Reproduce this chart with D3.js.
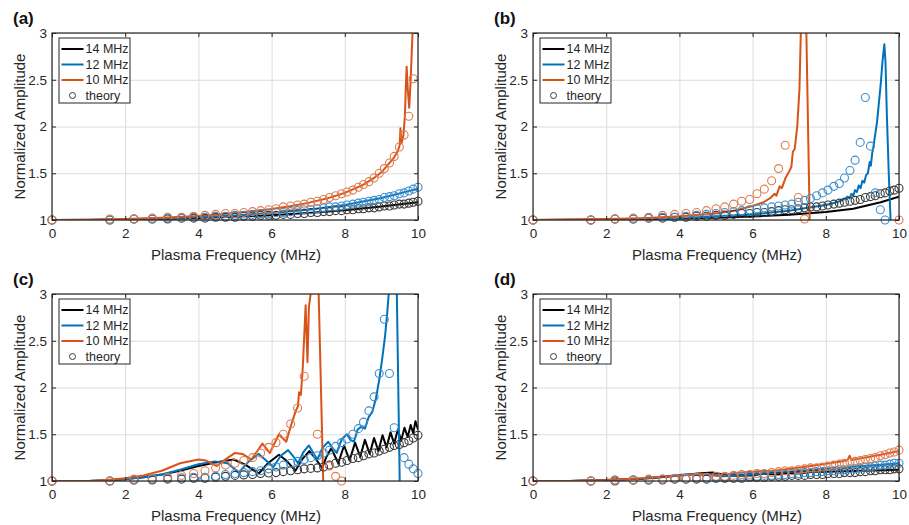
<!DOCTYPE html>
<html lang="en">
    <head>
        <meta charset="utf-8">
        <title>Normalized amplitude vs plasma frequency</title>
        <script type="text/javascript" src="https://d3js.org/d3.v7.min.js"></script>
        <style type="text/css">
            body{ margin: 0; background: #fff; }
            text{ font-family: "Liberation Sans", Arial, Helvetica, sans-serif; fill: #262626; }
            .grid line{ stroke: #dcdcdc; stroke-width: 1px; }
            .grid path{ display: none; }
            .axis path{ display: none; }
            .axis line{ stroke: #262626; stroke-width: 1px; }
            .axis text{ font-size: 13.5px; }
            .frame{ fill: none; stroke: #262626; stroke-width: 1.2px; }
            .sim{ fill: none; stroke-width: 2px; stroke-linejoin: round; }
            .theory{ fill: none; stroke-width: 1.1px; }
        </style>
    </head>
    <body>
        <svg id="fig" width="909" height="525"></svg>
        <script type="text/javascript">
        //tick values and labels
        const xTicks = [0, 2, 4, 6, 8, 10];
        const yTicks = [1, 1.5, 2, 2.5, 3];
        const seriesNames = ["14 MHz", "12 MHz", "10 MHz"];
        const theoryName = "theory";
        const panelLabels = ["(a)", "(b)", "(c)", "(d)"];
        const xTitle = "Plasma Frequency (MHz)";
        const yTitle = "Normalized Amplitude";

        //plasma frequencies of the theory points (MHz)
        const thX = [0, 1.58, 2.24, 2.74, 3.16, 3.54, 3.87, 4.18, 4.47, 4.74, 5.00, 5.24, 5.48, 5.70, 5.92, 6.12, 6.32, 6.52, 6.71, 6.89,
                     7.07, 7.25, 7.42, 7.58, 7.75, 7.91, 8.06, 8.22, 8.37, 8.51, 8.66, 8.80, 8.94, 9.08, 9.22, 9.35, 9.49, 9.62, 9.75, 9.87, 10.00];

        //theory amplitudes, one array per panel and source frequency
        const thA14 = [1.00,1.00,1.01,1.01,1.01,1.02,1.02,1.02,1.03,1.03,1.03,1.04,1.04,1.05,1.05,1.05,1.06,1.06,1.07,1.07,
                       1.08,1.08,1.09,1.09,1.10,1.10,1.11,1.11,1.12,1.12,1.13,1.13,1.14,1.15,1.15,1.16,1.17,1.17,1.18,1.19,1.20];
        const thA12 = [1.00,1.00,1.01,1.01,1.02,1.02,1.03,1.03,1.04,1.04,1.05,1.05,1.06,1.07,1.07,1.08,1.08,1.09,1.10,1.11,
                       1.11,1.12,1.13,1.14,1.14,1.15,1.16,1.17,1.18,1.19,1.20,1.21,1.22,1.24,1.25,1.26,1.28,1.29,1.31,1.33,1.35];
        const thA10 = [1.00,1.01,1.01,1.02,1.03,1.03,1.04,1.05,1.06,1.07,1.07,1.08,1.09,1.10,1.11,1.12,1.14,1.15,1.16,1.17,
                       1.19,1.20,1.22,1.24,1.26,1.28,1.30,1.32,1.35,1.38,1.41,1.45,1.50,1.55,1.61,1.68,1.78,1.91,2.11,2.51,null];

        const thB14 = [1.00,1.00,1.01,1.01,1.02,1.02,1.03,1.03,1.04,1.04,1.05,1.05,1.06,1.07,1.07,1.08,1.08,1.09,1.10,1.11,
                       1.11,1.12,1.13,1.14,1.14,1.15,1.16,1.17,1.18,1.19,1.20,1.21,1.22,1.24,1.25,1.26,1.28,1.29,1.31,1.32,1.34];
        const thB12 = [1.00,1.00,1.01,1.01,1.02,1.03,1.03,1.04,1.05,1.06,1.07,1.08,1.09,1.10,1.11,1.12,1.13,1.14,1.15,1.16,
                       1.17,1.19,1.21,1.23,1.26,1.29,1.32,1.36,1.39,1.45,1.53,1.64,1.83,2.31,1.79,1.29,1.11,1.00,null,null,null];
        const thB10 = [1.00,1.00,1.01,1.02,1.03,1.05,1.06,1.07,1.08,1.10,1.12,1.14,1.17,1.20,1.22,1.28,1.33,1.42,1.55,1.80,
                       null,1.24,1.01,null,null,null,null,null,null,null,null,null,null,null,null,null,null,null,null,null,1.00];

        const thC14 = [1.00,1.00,1.01,1.01,1.02,1.02,1.03,1.03,1.04,1.05,1.06,1.065,1.07,1.08,1.085,1.09,1.10,1.11,1.12,1.13,
                       1.135,1.14,1.15,1.17,1.19,1.20,1.22,1.24,1.25,1.27,1.29,1.30,1.32,1.34,1.36,1.38,1.39,1.41,1.43,1.46,1.49];
        const thC12 = [1.00,1.00,1.01,1.02,1.03,1.035,1.04,1.04,1.05,1.07,1.08,1.09,1.10,1.11,1.13,1.15,1.17,1.19,1.21,1.23,
                       1.25,1.27,1.30,1.33,1.37,1.41,1.45,1.50,1.56,1.63,1.75,1.90,2.15,2.73,2.15,1.57,null,1.25,1.18,1.13,1.08];
        const thC10 = [1.00,1.00,1.02,1.03,1.04,1.06,1.08,1.11,1.14,1.17,1.19,1.22,1.25,1.30,1.36,1.41,1.50,1.61,1.78,2.12,
                       null,1.50,null,1.16,1.05,1.00,null,null,null,null,null,null,null,null,null,null,null,null,null,null,null];

        const thD14 = [1.00,1.00,1.00,1.01,1.01,1.01,1.02,1.02,1.02,1.02,1.03,1.03,1.03,1.03,1.04,1.04,1.04,1.05,1.05,1.05,
                       1.06,1.06,1.06,1.07,1.07,1.07,1.08,1.08,1.08,1.09,1.09,1.09,1.10,1.10,1.11,1.11,1.12,1.12,1.12,1.13,1.13];
        const thD12 = [1.00,1.00,1.01,1.01,1.01,1.02,1.02,1.02,1.03,1.03,1.03,1.04,1.04,1.05,1.05,1.05,1.06,1.06,1.07,1.07,
                       1.08,1.08,1.09,1.09,1.10,1.10,1.11,1.11,1.12,1.12,1.13,1.13,1.14,1.15,1.15,1.16,1.17,1.17,1.18,1.19,1.19];
        const thD10 = [1.00,1.00,1.01,1.01,1.02,1.02,1.03,1.03,1.04,1.04,1.05,1.05,1.06,1.07,1.07,1.08,1.08,1.09,1.10,1.11,
                       1.11,1.12,1.13,1.14,1.14,1.15,1.16,1.17,1.18,1.19,1.20,1.21,1.22,1.23,1.24,1.25,1.27,1.28,1.30,1.31,1.33];

        //simulated amplitudes [plasma freq, amplitude]
        const simA14 = [[0,1],[1,1.001],[2,1.005],[3,1.012],[4,1.022],[5,1.035],[6,1.052],[7,1.075],[8,1.104],[9,1.145],[10,1.19]];
        const simA12 = [[0,1],[1,1.002],[2,1.007],[3,1.016],[4,1.03],[5,1.048],[6,1.074],[7,1.11],[8,1.16],[9,1.235],[9.5,1.285],[10,1.335]];
        const simA10 = [[0,1],[1,1.002],[2,1.01],[3,1.024],[4,1.044],[5,1.074],[6,1.118],[6.5,1.147],[7,1.183],[7.5,1.229],[8,1.29],
                        [8.5,1.375],[8.8,1.45],[9,1.51],[9.2,1.6],[9.35,1.67],[9.45,1.74],[9.5,1.8],[9.52,1.98],[9.55,1.82],[9.6,1.9],
                        [9.64,2.1],[9.67,2.45],[9.69,2.64],[9.72,2.4],[9.76,2.2],[9.8,2.5],[9.83,2.8],[9.86,3.1]];

        const simB14 = [[0,1],[2,1.004],[4,1.015],[5,1.025],[6,1.037],[7,1.055],[8,1.085],[8.75,1.12],[9.5,1.19],[10,1.25]];
        const simB12 = [[0,1],[2,1.005],[3,1.015],[4,1.025],[5,1.04],[6,1.06],[6.5,1.08],[7,1.10],[7.5,1.13],[8,1.16],[8.3,1.19],
                        [8.5,1.22],[8.6,1.25],[8.65,1.23],[8.7,1.28],[8.75,1.26],[8.8,1.32],[8.85,1.30],[8.9,1.37],[8.95,1.34],[9,1.42],
                        [9.05,1.40],[9.1,1.48],[9.15,1.50],[9.2,1.62],[9.23,1.58],[9.27,1.72],[9.3,1.78],[9.4,2.05],[9.5,2.45],[9.55,2.70],
                        [9.6,2.88],[9.63,2.70],[9.67,2.1],[9.72,1.5],[9.77,1.0]];
        const simB10 = [[0,1],[2,1.01],[3,1.02],[4,1.04],[5,1.07],[5.5,1.10],[6,1.15],[6.3,1.19],[6.5,1.24],[6.6,1.28],[6.65,1.26],
                        [6.74,1.36],[6.8,1.34],[6.9,1.45],[7.0,1.52],[7.06,1.57],[7.1,1.73],[7.15,1.76],[7.22,2.0],[7.28,2.4],[7.33,3.2],
                        [7.46,3.2],[7.56,1.0]];

        const simC14 = [[0,1],[1,1.0],[1.5,1.005],[2,1.02],[2.5,1.04],[3,1.07],[3.5,1.11],[4,1.16],[4.5,1.20],[4.97,1.23],[5.3,1.17],
                        [5.65,1.08],[5.9,1.19],[6.2,1.28],[6.4,1.22],[6.65,1.11],[6.85,1.24],[7.03,1.32],[7.2,1.24],[7.38,1.14],[7.5,1.26],
                        [7.63,1.35],[7.82,1.19],[7.98,1.38],[8.13,1.22],[8.28,1.41],[8.42,1.26],[8.55,1.44],[8.68,1.29],[8.8,1.46],
                        [8.92,1.32],[9.03,1.49],[9.14,1.36],[9.25,1.52],[9.35,1.40],[9.45,1.55],[9.54,1.43],[9.63,1.57],[9.72,1.47],
                        [9.8,1.60],[9.87,1.51],[9.93,1.64],[10,1.55]];
        const simC12 = [[0,1],[1,1.0],[2,1.02],[2.5,1.04],[3,1.07],[3.5,1.12],[4,1.18],[4.45,1.21],[4.8,1.19],[5.1,1.09],[5.35,1.20],
                        [5.65,1.29],[5.85,1.22],[6.05,1.15],[6.25,1.27],[6.45,1.33],[6.6,1.26],[6.72,1.19],[6.87,1.31],[7.02,1.38],
                        [7.14,1.30],[7.25,1.23],[7.4,1.36],[7.55,1.42],[7.67,1.35],[7.78,1.30],[7.92,1.45],[8.06,1.50],[8.15,1.44],
                        [8.25,1.42],[8.35,1.55],[8.45,1.58],[8.55,1.56],[8.65,1.68],[8.75,1.74],[8.85,1.88],[8.94,2.08],[9.02,2.3],
                        [9.1,2.55],[9.16,2.8],[9.21,3.05],[9.42,3.05],[9.5,1.0]];
        const simC10 = [[0,1],[1,1.0],[1.5,1.01],[2,1.03],[2.5,1.06],[3,1.11],[3.5,1.19],[4,1.23],[4.2,1.22],[4.5,1.16],[4.7,1.22],
                        [5,1.30],[5.2,1.29],[5.45,1.23],[5.75,1.40],[5.95,1.30],[6.2,1.50],[6.4,1.42],[6.55,1.62],[6.66,1.75],[6.72,1.80],
                        [6.75,1.95],[6.8,1.92],[6.85,2.2],[6.93,2.88],[6.98,2.27],[7.02,2.86],[7.1,3.1],[7.28,3.1],[7.41,1.0]];

        const simD14 = [[0,1],[1,1.0],[2,1.01],[3,1.025],[3.5,1.04],[4,1.06],[4.5,1.08],[4.9,1.09],[5.2,1.07],[5.5,1.055],[6,1.06],
                        [6.3,1.08],[6.6,1.07],[7,1.085],[7.3,1.08],[7.6,1.095],[8,1.10],[8.5,1.105],[9,1.11],[9.5,1.115],[10,1.12]];
        const simD12 = [[0,1],[1,1.0],[2,1.01],[3,1.03],[3.5,1.045],[4,1.065],[4.3,1.075],[4.8,1.065],[5.2,1.05],[5.6,1.06],[6,1.07],
                        [6.5,1.085],[7,1.10],[7.5,1.115],[8,1.13],[8.5,1.145],[9,1.16],[9.5,1.175],[10,1.19]];
        const simD10 = [[0,1],[1,1.0],[2,1.01],[3,1.03],[3.5,1.045],[4,1.06],[4.6,1.075],[5.1,1.06],[5.5,1.085],[6,1.10],[6.3,1.11],
                        [6.5,1.105],[7,1.13],[7.5,1.155],[8,1.185],[8.5,1.215],[8.6,1.225],[8.65,1.27],[8.7,1.225],[9,1.245],[9.5,1.28],[10,1.32]];

        //declare const
        const svg = d3.select("#fig");
        const colors = ["#000000", "#0072bd", "#d95319"];
        const theoryColors = ["#3a3a3a", "#3d8ecb", "#de7a4e"];
        const pw = 366, ph = 187;

        const panels = [
            {left: 52,  top: 33,  sim: [simA14, simA12, simA10], th: [thA14, thA12, thA10]},
            {left: 533, top: 33,  sim: [simB14, simB12, simB10], th: [thB14, thB12, thB10]},
            {left: 52,  top: 294, sim: [simC14, simC12, simC10], th: [thC14, thC12, thC10]},
            {left: 533, top: 294, sim: [simD14, simD12, simD10], th: [thD14, thD12, thD10]}
        ];

        const x = d3.scaleLinear().domain([0, 10]).range([0, pw]);
        const y = d3.scaleLinear().domain([1, 3]).range([ph, 0]);
        const line = d3.line().x(d => x(d[0])).y(d => y(d[1]));

        panels.forEach((p, k) => {
            const g = svg.append("g").attr("transform", `translate(${p.left},${p.top})`);

            //grid
            g.append("g").attr("class", "grid")
                .attr("transform", `translate(0,${ph})`)
                .call(d3.axisBottom(x).tickValues(xTicks).tickSize(-ph).tickFormat(""));
            g.append("g").attr("class", "grid")
                .call(d3.axisLeft(y).tickValues(yTicks).tickSize(-pw).tickFormat(""));

            //clip for the simulated lines
            g.append("clipPath").attr("id", "clip" + k)
                .append("rect").attr("width", pw).attr("height", ph);

            p.sim.forEach((s, i) => {
                g.append("path")
                    .datum(s)
                    .attr("class", "sim")
                    .attr("clip-path", `url(#clip${k})`)
                    .attr("stroke", colors[i])
                    .attr("d", line);
            });

            //theory circles
            p.th.forEach((s, i) => {
                const pts = thX.map((fx, j) => [fx, s[j]]).filter(d => d[1] !== null);
                g.append("g").selectAll("circle")
                    .data(pts)
                    .join("circle")
                    .attr("class", "theory")
                    .attr("cx", d => x(d[0]))
                    .attr("cy", d => y(d[1]))
                    .attr("r", 4)
                    .attr("stroke", theoryColors[i]);
            });

            //axes, ticks inside like matlab
            g.append("g").attr("class", "axis")
                .attr("transform", `translate(0,${ph})`)
                .call(d3.axisBottom(x).tickValues(xTicks).tickSizeInner(-4).tickSizeOuter(0).tickPadding(8));
            g.append("g").attr("class", "axis")
                .call(d3.axisTop(x).tickValues(xTicks).tickSizeInner(-4).tickSizeOuter(0).tickFormat(""));
            g.append("g").attr("class", "axis")
                .call(d3.axisLeft(y).tickValues(yTicks).tickSizeInner(-4).tickSizeOuter(0).tickPadding(5).tickFormat(d3.format("")));
            g.append("g").attr("class", "axis")
                .attr("transform", `translate(${pw},0)`)
                .call(d3.axisRight(y).tickValues(yTicks).tickSizeInner(-4).tickSizeOuter(0).tickFormat(""));
            g.append("rect").attr("class", "frame").attr("width", pw).attr("height", ph);

            //titles
            g.append("text")
                .attr("x", pw / 2 + 1).attr("y", ph + 40)
                .attr("text-anchor", "middle")
                .style("font-size", "15px")
                .text(xTitle);
            g.append("text")
                .attr("transform", `translate(${-27},${ph / 2}) rotate(-90)`)
                .attr("text-anchor", "middle")
                .style("font-size", "15px")
                .text(yTitle);
            g.append("text")
                .attr("x", -39).attr("y", -9)
                .style("font-size", "17px")
                .style("font-weight", "bold")
                .style("fill", "#111")
                .text(panelLabels[k]);

            //legend
            const lg = g.append("g").attr("transform", "translate(7,5)");
            lg.append("rect")
                .attr("width", 71).attr("height", 65)
                .attr("fill", "#fff").attr("stroke", "#262626").attr("stroke-width", 1);
            seriesNames.forEach((n, i) => {
                const ry = 11 + i * 15.5;
                lg.append("line")
                    .attr("x1", 2.5).attr("x2", 24.5).attr("y1", ry).attr("y2", ry)
                    .attr("stroke", colors[i]).attr("stroke-width", 2);
                lg.append("text")
                    .attr("x", 26.5).attr("y", ry).attr("dy", "0.35em")
                    .style("font-size", "12.5px")
                    .text(n);
            });
            lg.append("circle")
                .attr("cx", 13.5).attr("cy", 57.5).attr("r", 3)
                .attr("fill", "none").attr("stroke", theoryColors[0]).attr("stroke-width", 1);
            lg.append("text")
                .attr("x", 26.5).attr("y", 57.5).attr("dy", "0.35em")
                .style("font-size", "12.5px")
                .text(theoryName);
        });
        </script>
    </body>
</html>
